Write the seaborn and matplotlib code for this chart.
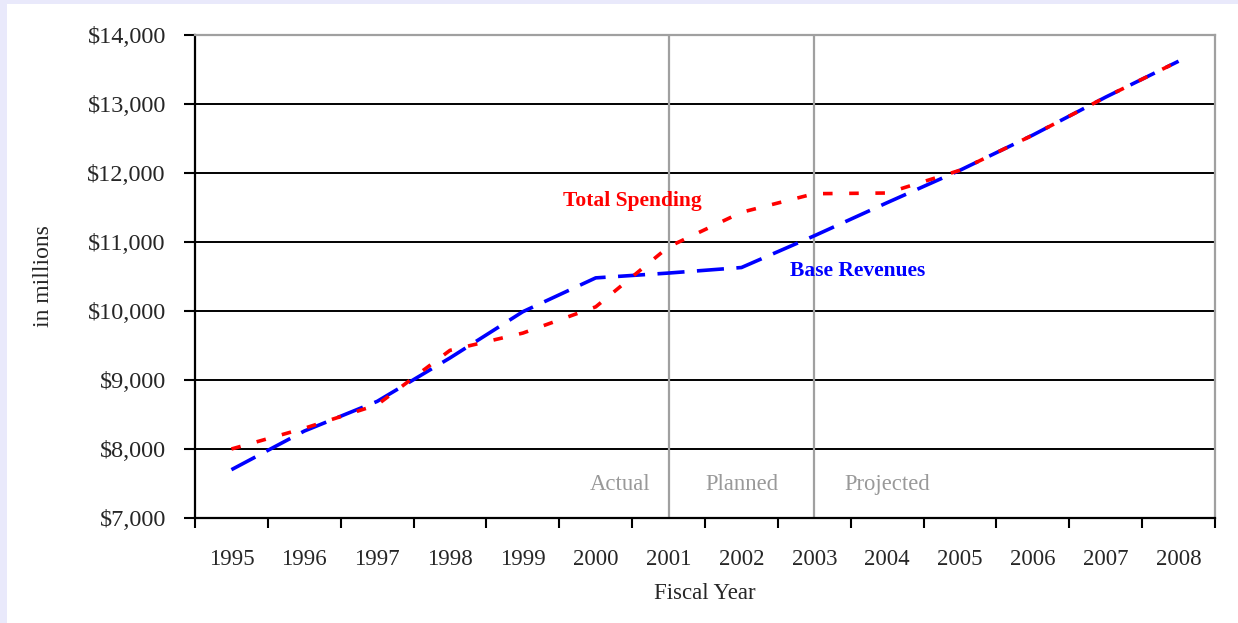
import matplotlib
matplotlib.use("Agg")
import matplotlib.pyplot as plt
from matplotlib.patches import Rectangle
import seaborn as sns
import pandas as pd

years = [1995, 1996, 1997, 1998, 1999, 2000, 2001, 2002, 2003, 2004, 2005, 2006, 2007, 2008]
total_spending = [8000, 8300, 8640, 9430, 9680, 10060, 10930, 11430, 11700, 11710, 12040, 12550, 13100, 13620]
base_revenues = [7700, 8260, 8690, 9320, 9990, 10480, 10550, 10630, 11090, 11570, 12040, 12550, 13100, 13620]
y_ticks = [7000, 8000, 9000, 10000, 11000, 12000, 13000, 14000]
phase_labels = ["Actual", "Planned", "Projected"]
phase_x = [2000.33, 2002.0, 2004.0]
phase_bounds = [2001, 2003]

df = pd.concat([
    pd.DataFrame({"year": years, "value": base_revenues, "series": "Base Revenues"}),
    pd.DataFrame({"year": years, "value": total_spending, "series": "Total Spending"}),
])

sns.set_style("white")
plt.rcParams["font.family"] = ["Liberation Serif", "DejaVu Serif"]

fig = plt.figure(figsize=(12.38, 6.23), dpi=100)
fig.patch.set_facecolor("#E9E9FB")
fig.patches.append(Rectangle((7 / 1238, 0), 1, 1 - 4 / 623, transform=fig.transFigure,
                             facecolor="white", edgecolor="none", zorder=-10))
ax = fig.add_axes([195 / 1238, 1 - 518 / 623, (1215 - 195) / 1238, (518 - 35) / 623])
ax.set_zorder(1)
ax.set_facecolor("white")

for yv in y_ticks:
    ax.axhline(yv, color="black", lw=1.4, zorder=1)
for xb in phase_bounds:
    ax.axvline(xb, color="#A0A0A0", lw=1.6, zorder=1)

sns.lineplot(data=df, x="year", y="value", hue="series", style="series",
             hue_order=["Base Revenues", "Total Spending"],
             style_order=["Base Revenues", "Total Spending"],
             palette={"Base Revenues": "#0000FF", "Total Spending": "#FF0000"},
             dashes={"Base Revenues": (7.5, 3.45), "Total Spending": (2.65, 4.6)},
             lw=2.6, legend=False, ax=ax, zorder=3)

ax.set_xlim(years[0] - 0.5, years[-1] + 0.5)
ax.set_ylim(y_ticks[0], y_ticks[-1])
ax.set_yticks(y_ticks)
ax.set_yticklabels([f"${v:,}" for v in y_ticks])
ax.set_xticks(years)
ax.set_xticklabels([str(y) for y in years])
ax.set_xticks([y + 0.5 for y in [years[0] - 1] + years], minor=True)
ax.tick_params(axis="x", which="both", bottom=True)
ax.tick_params(axis="y", which="major", left=True)
ax.tick_params(axis="x", which="major", length=0, pad=22, labelsize=16.5)
ax.tick_params(axis="x", which="minor", length=7, width=1.5, color="black", direction="out")
ax.tick_params(axis="y", which="major", length=8, width=1.5, color="black", direction="out",
               pad=13, labelsize=17.5)

for side in ["left", "bottom"]:
    ax.spines[side].set_color("black")
    ax.spines[side].set_linewidth(1.6)
for side in ["top", "right"]:
    ax.spines[side].set_color("#A0A0A0")
    ax.spines[side].set_linewidth(1.6)

ax.set_xlabel("Fiscal Year", fontsize=16.5, labelpad=10)
ax.set_ylabel("in millions", fontsize=17, labelpad=24)

ax.text(2000.5, 11590, "Total Spending", color="#FF0000", fontsize=15.5, fontweight="bold",
        ha="center", va="center")
ax.text(2003.6, 10580, "Base Revenues", color="#0000FF", fontsize=15.5, fontweight="bold",
        ha="center", va="center")
for lab, px in zip(phase_labels, phase_x):
    ax.text(px, 7490, lab, color="#999999", fontsize=16.3, ha="center", va="center")

fig.savefig("out.png", dpi=100, facecolor=fig.get_facecolor())
